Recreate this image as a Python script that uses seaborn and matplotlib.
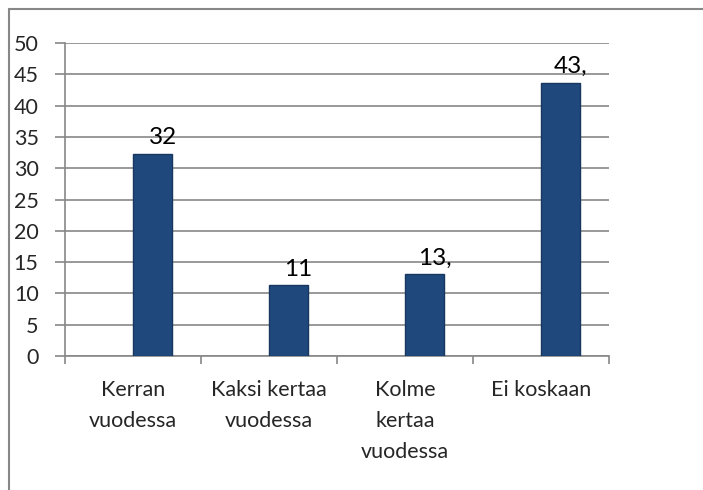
import matplotlib
matplotlib.use("Agg")
import matplotlib.pyplot as plt
from matplotlib.lines import Line2D
import seaborn as sns
import pandas as pd

# data
categories = ["Kerran\nvuodessa", "Kaksi kertaa\nvuodessa", "Kolme\nkertaa\nvuodessa", "Ei koskaan"]
values = [32.3, 11.3, 13.05, 43.65]
value_labels = ["32", "11", "13,", "43,"]
y_ticks = [0, 5, 10, 15, 20, 25, 30, 35, 40, 45, 50]

sns.set_theme(style="white")
plt.rcParams["font.family"] = ["Lato", "DejaVu Sans"]

grid_col = "#878787"
bar_col = "#1F497D"
fs = 15.5

df = pd.DataFrame({"cat": categories, "val": values, "series": ["s2"] * len(values)})

fig = plt.figure(figsize=(7.03, 4.90), dpi=100)
ax = fig.add_axes([0.0925, 0.2735, 0.866 - 0.0925, 0.912 - 0.2735])

# excel-style clustered layout: empty first series, so bars sit right of centre
sns.barplot(data=df, x="cat", y="val", hue="series", hue_order=["s1", "s2"],
            palette={"s1": bar_col, "s2": bar_col}, width=2 / 3.5, dodge=True,
            saturation=1, edgecolor="#17375E", linewidth=1, legend=False,
            ax=ax, zorder=3)

ax.set_xlim(-0.5, len(categories) - 0.5)
ax.set_ylim(0, 50)
ax.set_yticks(y_ticks)
ax.set_yticklabels([str(t) for t in y_ticks], fontsize=fs)
ax.yaxis.grid(True, color=grid_col, linewidth=1.2)
ax.set_axisbelow(True)
ax.set_xlabel("")
ax.set_ylabel("")

# x ticks at category boundaries, labels at centres
ax.set_xticks([i - 0.5 for i in range(len(categories) + 1)])
ax.set_xticklabels([])
ax.set_xticks(range(len(categories)), minor=True)
ax.set_xticklabels(categories, minor=True, fontsize=fs, linespacing=1.7, va="top")
ax.tick_params(axis="x", which="major", direction="out", length=6, width=1.2,
               color=grid_col, bottom=True)
ax.tick_params(axis="x", which="minor", length=0, pad=17)
ax.tick_params(axis="y", direction="out", length=7, width=1.2, color=grid_col,
               left=True, pad=12)

for s in ["top", "right"]:
    ax.spines[s].set_visible(False)
for s in ["left", "bottom"]:
    ax.spines[s].set_color(grid_col)
    ax.spines[s].set_linewidth(1.2)

for i, (v, lab) in enumerate(zip(values, value_labels)):
    ax.annotate(lab, (i + 0.143 + 0.075, v), xytext=(0, 4), textcoords="offset points",
                ha="center", va="bottom", fontsize=17.5, color="black")

# chart area border (top and left visible in the reference)
fig.add_artist(Line2D([9 / 703, 1], [1 - 9 / 490, 1 - 9 / 490], color=grid_col, lw=1.5))
fig.add_artist(Line2D([9 / 703, 9 / 703], [0, 1 - 9 / 490], color=grid_col, lw=1.5))

fig.savefig("out.png", dpi=100)
